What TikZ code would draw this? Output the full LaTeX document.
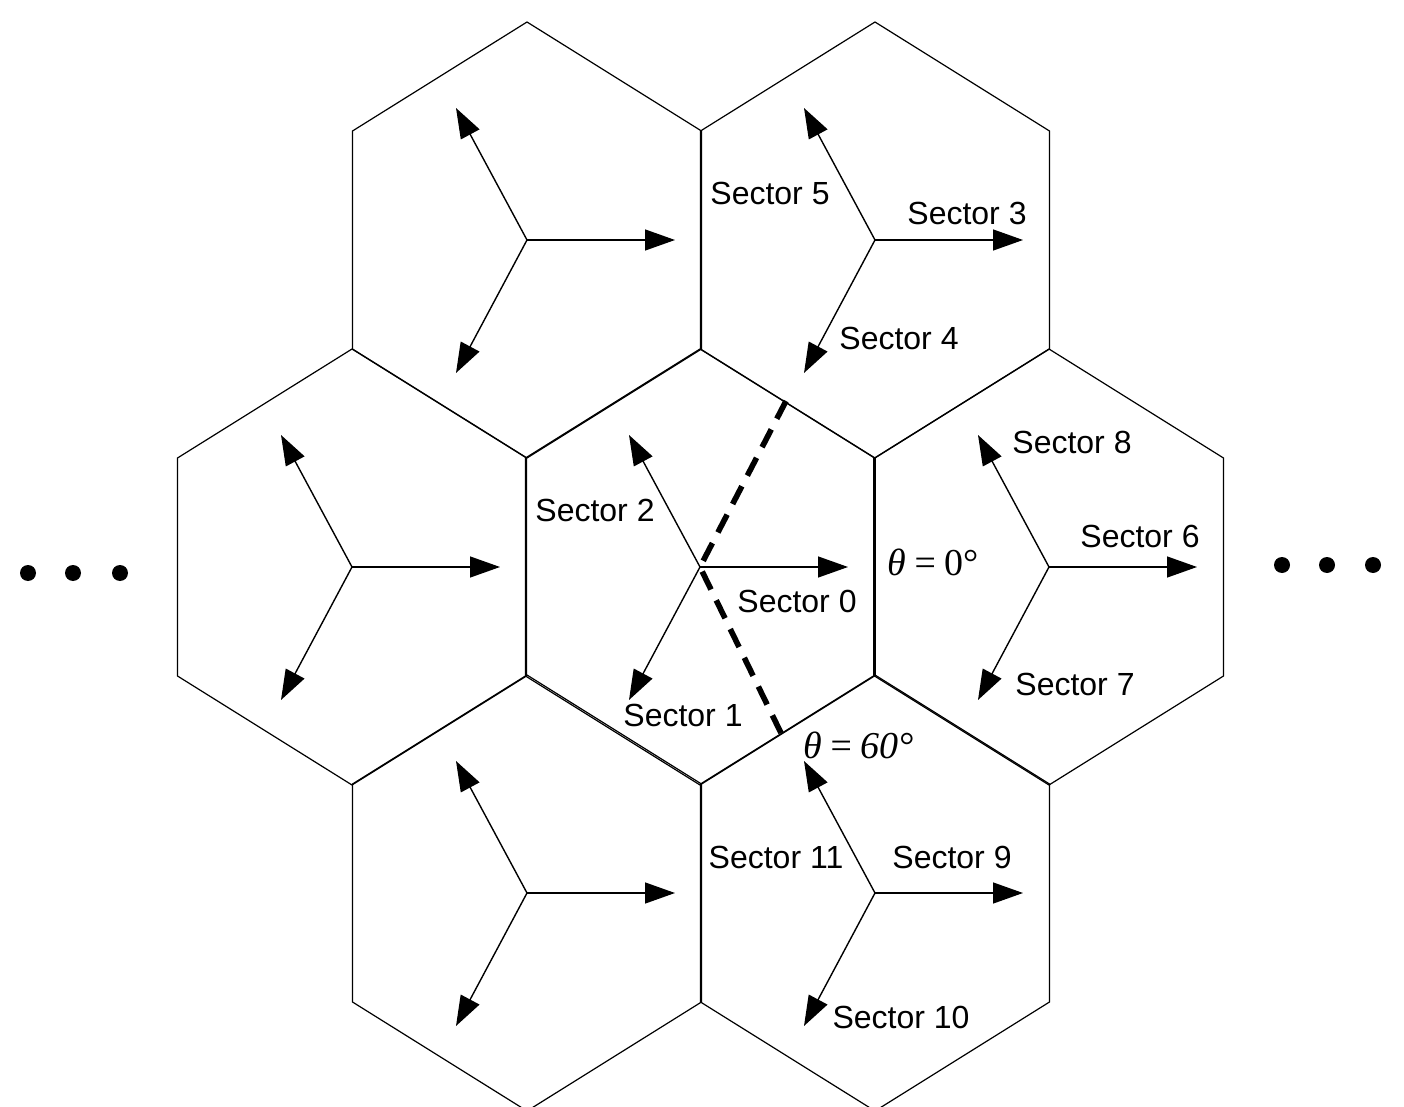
\documentclass[tikz,border=0pt]{standalone}
\usepackage{fontspec}
\setmainfont{Liberation Sans}
\newfontfamily\thetafont{Liberation Serif}
\usetikzlibrary{arrows.meta}
\begin{document}
\begin{tikzpicture}[x=0.5pt,y=-0.5pt,
  hexline/.style={line width=0.6pt},
  arr/.style={line width=0.7pt,-{Triangle[length=15pt,width=10.5pt]}},
  lbl/.style={font=\fontsize{16}{18}\selectfont, inner sep=0pt},
  thl/.style={font=\fontsize{19}{21}\selectfont\thetafont, inner sep=0pt},
  dashline/.style={line width=2.8pt, dash pattern=on 10pt off 6pt},
  dotmark/.style={circle, fill=black, minimum size=8pt, inner sep=0pt}]
\useasboundingbox (0,0) rectangle (1404,1107);
% hexagons and arrows
\foreach \n/\cx/\cy in {c0/700/567, tl/527/240, tr/875/240, lf/352/567, rt/1049/567, bl/527/893, br/875/893}{
  \coordinate (\n) at (\cx,\cy);
  \draw[hexline] (\n) ++(0,-218) -- ++(174.5,109) -- ++(0,218) -- ++(-174.5,109) -- ++(-174.5,-109) -- ++(0,-218) -- cycle;
  \path (\n) ++(148,0) coordinate (\n-r);
  \path (\n) ++(-71,-132) coordinate (\n-u);
  \path (\n) ++(-71,133) coordinate (\n-d);
  \draw[arr] (\n) -- (\n-r);
  \draw[arr] (\n) -- (\n-u);
  \draw[arr] (\n) -- (\n-d);
}
% thicker right edge of centre cell
\path (c0) ++(174.5,-109) coordinate (c0e1);
\path (c0) ++(174.5,109) coordinate (c0e2);
\draw[line width=1.2pt] (c0e1) -- (c0e2);
% dashed boundaries
\coordinate (dup) at (786,401);
\coordinate (ddn) at (781,733);
\draw[dashline] (dup) -- (c0) -- (ddn);
% labels
\node[lbl] (s5) at (770,193) {Sector 5};
\node[lbl] (s3) at (967,213) {Sector 3};
\node[lbl] (s4) at (899,338) {Sector 4};
\node[lbl] (s8) at (1072,442) {Sector 8};
\node[lbl] (s6) at (1140,536) {Sector 6};
\node[lbl] (s7) at (1075,684) {Sector 7};
\node[lbl] (s2) at (595,510) {Sector 2};
\node[lbl] (s0) at (797,601) {Sector 0};
\node[lbl] (s1) at (683,715) {Sector 1};
\node[lbl] (s11) at (776,857) {Sector 11};
\node[lbl] (s9) at (952,857) {Sector 9};
\node[lbl] (s10) at (901,1017) {Sector 10};
\node[thl] (th0) at (933,562) {\itshape θ\/\,=\,\upshape 0°};
\node[thl] (th60) at (859,745) {\itshape θ\/\,=\,60°};
% dots
\foreach \i/\x/\y in {1/28/573, 2/73/573, 3/120/573, 4/1282/565, 5/1327/565, 6/1373/565}
  \node[dotmark] (dot\i) at (\x,\y) {};
\end{tikzpicture}
\end{document}
